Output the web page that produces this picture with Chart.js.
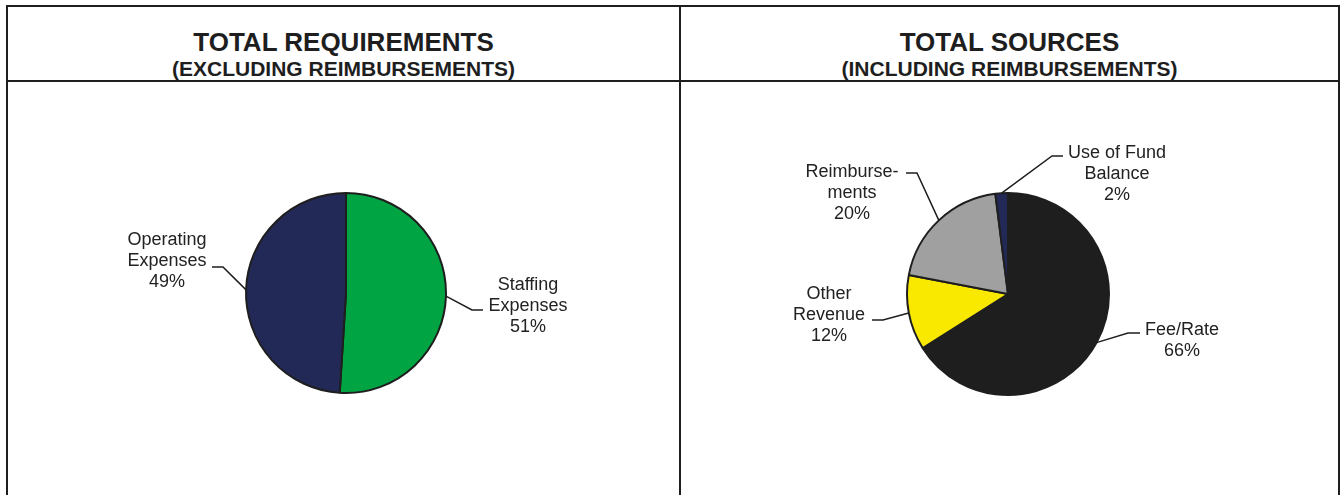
<!DOCTYPE html>
<html>
<head>
<meta charset="utf-8">
<script src="https://cdn.jsdelivr.net/npm/chart.js@4"></script>
<style>
  html, body { margin: 0; padding: 0; background: #fff; }
  body { width: 1340px; height: 495px; position: relative; overflow: hidden;
         font-family: "Liberation Sans", Arial, sans-serif; color: #1e1e1e; }
  .frame { position: absolute; left: 6px; top: 5px; width: 1334px; height: 600px;
           box-sizing: border-box; border: 2px solid #1e1e1e; }
  .divider { position: absolute; left: 679px; top: 5px; width: 2px; height: 600px; background: #1e1e1e; }
  .rule { position: absolute; left: 6px; top: 80px; width: 1334px; height: 2px; background: #1e1e1e; }
  .title, .subtitle { position: absolute; text-align: center; font-weight: bold; white-space: nowrap; }
  .title { font-size: 26px; line-height: 30px; top: 27px; }
  .subtitle { font-size: 21px; line-height: 24px; top: 57px; }
  canvas { position: absolute; }
</style>
</head>
<body>
<div class="frame"></div>
<div class="divider"></div>
<div class="rule"></div>

<div class="title" style="left:8px; width:671px;">TOTAL REQUIREMENTS</div>
<div class="subtitle" style="left:8px; width:671px;">(EXCLUDING REIMBURSEMENTS)</div>
<div class="title" style="left:681px; width:657px;">TOTAL SOURCES</div>
<div class="subtitle" style="left:681px; width:657px;">(INCLUDING REIMBURSEMENTS)</div>

<canvas id="reqChart" width="671" height="413" style="left:8px; top:82px;"></canvas>
<canvas id="srcChart" width="657" height="413" style="left:681px; top:82px;"></canvas>

<script>
// data (percent of total)
const reqLabels = [['Staffing', 'Expenses'], ['Operating', 'Expenses']];
const reqValues = [51, 49];
const reqColors = ['#00a443', '#232957'];

const srcLabels = [['Fee/Rate'], ['Other', 'Revenue'], ['Reimburse-', 'ments'], ['Use of Fund', 'Balance']];
const srcValues = [66, 12, 20, 2];
const srcColors = ['#1e1e1e', '#f9e900', '#a0a0a0', '#232957'];

const FONT = '"Liberation Sans", Arial, sans-serif';
const INK = '#1e1e1e';

// draws each slice's label with an elbow leader line, anchored at the slice mid-angle
const calloutPlugin = {
  id: 'callouts',
  afterDatasetsDraw(chart, args, opts) {
    const ctx = chart.ctx;
    const meta = chart.getDatasetMeta(0);
    const values = chart.data.datasets[0].data;
    meta.data.forEach((arc, i) => {
      const p = opts.placement[i];
      const { x, y, startAngle, endAngle, outerRadius } =
        arc.getProps(['x', 'y', 'startAngle', 'endAngle', 'outerRadius'], true);
      const mid = (startAngle + endAngle) / 2;
      const ax = x + Math.cos(mid) * outerRadius;
      const ay = y + Math.sin(mid) * outerRadius;

      ctx.save();
      ctx.strokeStyle = INK;
      ctx.lineWidth = 1.5;
      ctx.beginPath();
      ctx.moveTo(ax, ay);
      ctx.lineTo(x + p.elbow[0], y + p.elbow[1]);
      ctx.lineTo(x + p.end[0], y + p.end[1]);
      ctx.stroke();

      const lines = [...chart.data.labels[i], values[i] + '%'];
      ctx.fillStyle = '#222';
      ctx.font = '18px ' + FONT;
      ctx.textAlign = 'center';
      ctx.textBaseline = 'middle';
      lines.forEach((t, k) => {
        ctx.fillText(t, x + p.text[0], y + p.text[1] + k * 21);
      });
      ctx.restore();
    });
  }
};

// padding that puts a pie of radius r centred at (cx, cy) in page coordinates
function piePadding(canvas, cx, cy, r, bw) {
  const left = parseFloat(canvas.style.left);
  const top = parseFloat(canvas.style.top);
  const side = 2 * r + bw;
  const pl = cx - left - side / 2;
  const pt = cy - top - side / 2;
  return { left: pl, top: pt, right: canvas.width - pl - side, bottom: canvas.height - pt - side };
}

function makePie(id, labels, values, colors, center, radius, placement) {
  const canvas = document.getElementById(id);
  return new Chart(canvas.getContext('2d'), {
    type: 'pie',
    data: {
      labels: labels,
      datasets: [{
        data: values,
        backgroundColor: colors,
        borderColor: INK,
        borderWidth: 2,
      }],
    },
    options: {
      responsive: false,
      animation: false,
      layout: { padding: piePadding(canvas, center[0], center[1], radius, 2) },
      plugins: {
        legend: { display: false },
        tooltip: { enabled: false },
        callouts: { placement: placement },
      },
    },
    plugins: [calloutPlugin],
  });
}

makePie('reqChart', reqLabels, reqValues, reqColors, [346, 293], 100, [
  { elbow: [126, 17], end: [137, 17], text: [182, -8] },
  { elbow: [-123, -26], end: [-134, -26], text: [-179, -53] },
]);

makePie('srcChart', srcLabels, srcValues, srcColors, [1008, 294], 101, [
  { elbow: [120, 39], end: [132, 39], text: [174, 36] },
  { elbow: [-125, 26], end: [-136, 26], text: [-179, 0] },
  { elbow: [-91, -121], end: [-102, -121], text: [-156, -122] },
  { elbow: [44, -138], end: [55, -138], text: [109, -141] },
]);
</script>
</body>
</html>
